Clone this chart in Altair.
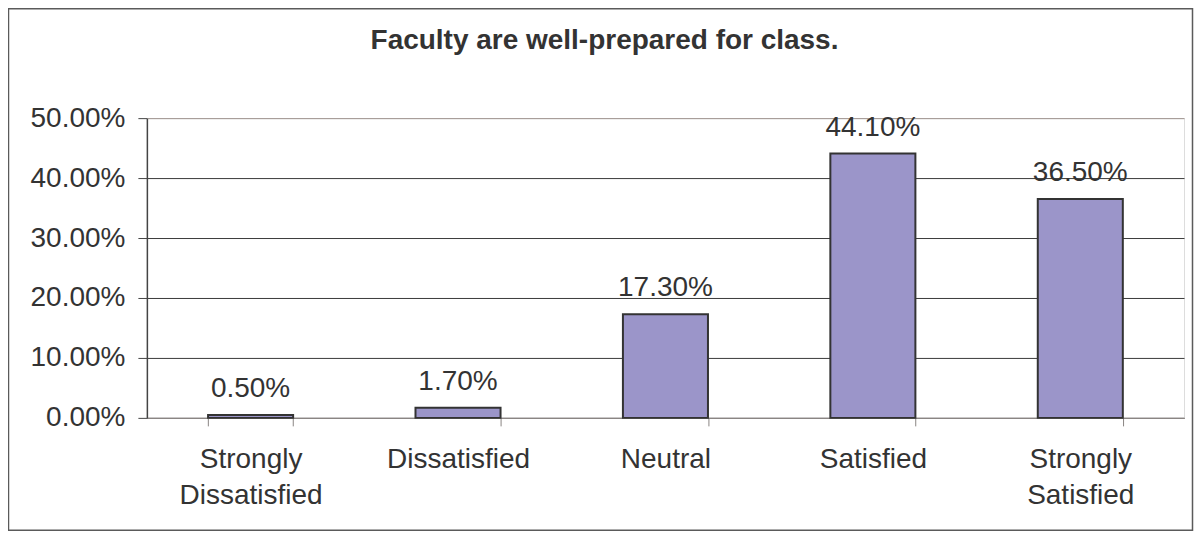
import altair as alt
import pandas as pd

categories = ["Strongly Dissatisfied", "Dissatisfied", "Neutral", "Satisfied", "Strongly Satisfied"]
values = [0.005, 0.017, 0.173, 0.441, 0.365]
y_ticks = [0.0, 0.1, 0.2, 0.3, 0.4, 0.5]
title_text = "Faculty are well-prepared for class."

df = pd.DataFrame({"cat": categories, "val": values})

FONT = "Liberation Sans"
TXT = "#333333"

x_enc = alt.X(
    "cat:N",
    sort=categories,
    title=None,
    scale=alt.Scale(paddingInner=0.59, paddingOuter=0.295),
    axis=alt.Axis(
        labelAngle=0,
        labelExpr="split(datum.label, ' ')",
        labelFontSize=28,
        labelFont=FONT,
        labelColor=TXT,
        labelLineHeight=36,
        labelPadding=20,
        labelBaseline="top",
        tickBand="extent",
        tickSize=8,
        tickColor="#8a8583",
        domainColor="#8a8583",
        domainWidth=1.5,
        grid=False,
    ),
)

y_enc = alt.Y(
    "val:Q",
    title=None,
    scale=alt.Scale(domain=[0, 0.5], nice=False),
    axis=alt.Axis(
        values=y_ticks,
        format=".2%",
        labelFontSize=28,
        labelFont=FONT,
        labelColor=TXT,
        labelPadding=13,
        tickSize=9,
        tickColor="#444444",
        domainColor="#444444",
        domainWidth=1.5,
        grid=True,
        gridColor=alt.condition("datum.value >= 0.5", alt.value("#a09590"), alt.value("#3a3a3a")),
        gridWidth=1,
    ),
)

base = alt.Chart(df)

bars = base.mark_bar(fill="#9b95c9", stroke="#333333", strokeWidth=2).encode(x=x_enc, y=y_enc)

labels = base.mark_text(
    baseline="alphabetic", dy=-18, fontSize=28, font=FONT, color=TXT
).encode(
    x=alt.X("cat:N", sort=categories),
    y=alt.Y("val:Q"),
    text=alt.Text("val:Q", format=".2%"),
)

single = pd.DataFrame({"t": [title_text]})

frame = alt.Chart(single).mark_rect(
    fill=None, stroke="#5a5a5a", strokeWidth=1.5
).encode(
    x=alt.value(-138.5), x2=alt.value(1046.5), y=alt.value(-109.5), y2=alt.value(412.5)
)

title = alt.Chart(single).mark_text(
    fontSize=28, fontWeight="bold", font=FONT, color=TXT,
    align="center", baseline="alphabetic",
).encode(
    x=alt.value(458), y=alt.value(-69), text="t:N"
)

chart = (
    alt.layer(frame, title, bars, labels)
    .properties(
        width=1038,
        height=300,
        padding={"left": 139, "top": 110, "right": 10, "bottom": 114},
        autosize=alt.AutoSizeParams(type="none"),
    )
    .configure_view(stroke="#a09590", strokeWidth=1.5)
    .configure(background="white")
)

chart.save("out.html", embed_options={"renderer": "svg", "actions": False})
